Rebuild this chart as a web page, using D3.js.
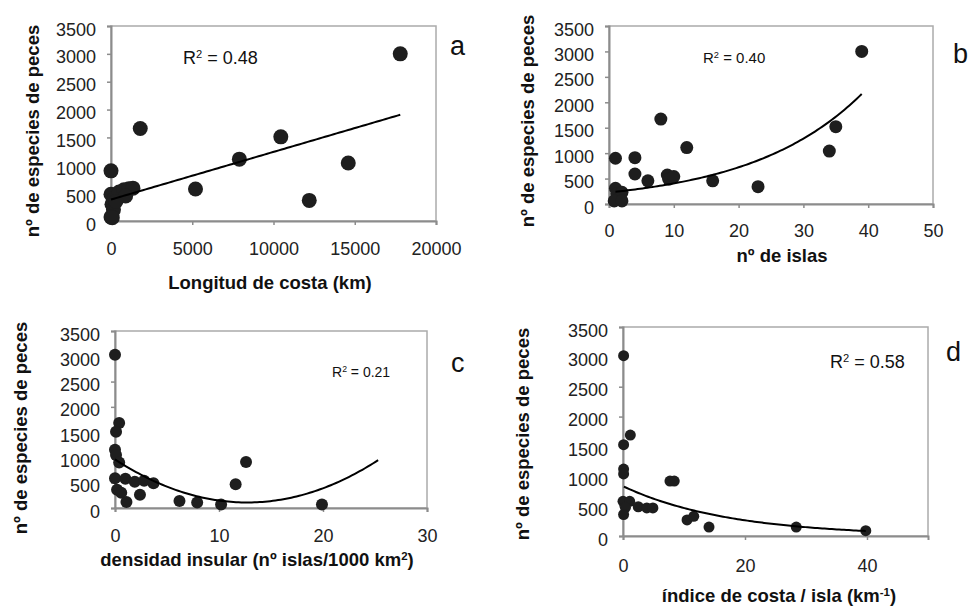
<!DOCTYPE html>
<html>
<head>
<meta charset="utf-8">
<script src="https://cdn.jsdelivr.net/npm/d3@7"></script>
<style>
  body { margin: 0; background: #fff; }
  text { font-family: "Liberation Sans", Arial, sans-serif; }
</style>
</head>
<body>
<script>
// 4 paneles: nº de especies de peces frente a variables insulares

// datos
let yTicks = [0, 500, 1000, 1500, 2000, 2500, 3000, 3500]

// a - longitud de costa (km)
let costaX = [17800, 1800, 10450, 7900, 14600, 5200, 12200, 0, 0, 60, 150, 0, 80, 250, 500, 800, 1100, 1350, 900, 300]
let costaY = [3000, 1660, 1510, 1110, 1040, 575, 370, 900, 480, 300, 200, 70, 60, 420, 520, 560, 580, 590, 450, 350]
let costaTicks = [0, 5000, 10000, 15000, 20000]
let costaTrend = { intercept: 385, slope: 0.0855, from: 0, to: 17800 }

// b - nº de islas
let islasX = [39, 35, 34, 8, 12, 1, 4, 4, 6, 9, 9.2, 10, 16, 23, 1, 1.2, 1.5, 2, 0.8, 2]
let islasY = [3000, 1520, 1040, 1670, 1110, 900, 910, 590, 455, 570, 490, 540, 455, 340, 310, 200, 110, 230, 60, 60]
let islasTicks = [0, 10, 20, 30, 40, 50]
let islasTrend = { a: 227, b: 0.0578, from: 1, to: 39 }

// c - densidad insular
let densX = [0, 0.4, 0.1, 0, 0.1, 0.4, 0, 1, 1.9, 2.8, 3.7, 0.2, 0.6, 1.1, 2.4, 6.2, 7.9, 10.2, 11.6, 12.6, 19.9]
let densY = [3030, 1680, 1510, 1150, 1050, 900, 590, 580, 520, 540, 490, 360, 300, 120, 260, 140, 110, 70, 470, 910, 70]
let densTicks = [0, 10, 20, 30]
let densTrend = { c2: 5.27, c1: -133.9, c0: 960, from: 0, to: 25.3 }

// d - índice de costa / isla
let indiceX = [0.1, 1.2, 0.1, 0.1, 0.1, 7.7, 8.4, 0, 1.1, 2.5, 3.9, 4.9, 0.4, 0.1, 10.5, 11.6, 14.1, 28.4, 39.8]
let indiceY = [3020, 1690, 1530, 1120, 1040, 920, 920, 580, 580, 490, 470, 470, 480, 360, 270, 330, 150, 150, 90]
let indiceTicks = [0, 20, 40]
let indiceTrend = { a: 834, b: -0.0577, from: 0.15, to: 39.8 }

let svg = d3.select('body').append('svg')
  .attr('width', 970)
  .attr('height', 606)

// texto con superíndices: partes = [[texto, esSup], ...]
function richText (sel, parts) {
  parts.forEach(function (p) {
    if (p[1]) {
      sel.append('tspan').attr('dy', '-0.55em').attr('font-size', '0.62em').text(p[0])
    } else {
      let t = sel.append('tspan').text(p[0])
      if (sel.selectAll('tspan').size() > 1) t.attr('dy', '0.34em')
    }
  })
}

function panel (o) {
  let x = d3.scaleLinear().domain(o.xDomain).range([o.left, o.right])
  let y = d3.scaleLinear().domain([0, 3500]).range([o.bottom, o.top])
  let g = svg.append('g')

  // marco del área de trazado
  g.append('rect')
    .attr('x', o.left).attr('y', o.top)
    .attr('width', o.right - o.left).attr('height', o.bottom - o.top)
    .attr('fill', 'none').attr('stroke', '#ababab').attr('stroke-width', 1.5)

  let yAxis = g.append('g')
    .attr('transform', 'translate(' + o.left + ',0)')
    .call(d3.axisLeft(y).tickValues(yTicks).tickFormat(d3.format('d')).tickSize(4).tickPadding(11))
  let xAxis = g.append('g')
    .attr('transform', 'translate(0,' + o.bottom + ')')
    .call(d3.axisBottom(x).tickValues(o.xTicks).tickFormat(d3.format('d')).tickSize(4).tickPadding(o.xPad))
  ;[yAxis, xAxis].forEach(function (ax) {
    ax.select('.domain').attr('stroke', '#8c8c8c').attr('stroke-width', 2)
    ax.selectAll('line').attr('stroke', '#8c8c8c').attr('stroke-width', 1.5)
    ax.selectAll('text').attr('font-size', '18px').attr('fill', '#222')
      .style('font-family', '"Liberation Sans", Arial, sans-serif')
  })
  yAxis.selectAll('text').attr('dy', '0.5em')

  // puntos
  g.selectAll('circle')
    .data(o.xs.map(function (v, i) { return [v, o.ys[i]] }))
    .enter()
    .append('circle')
    .attr('cx', function (d) { return x(d[0]) })
    .attr('cy', function (d) { return y(d[1]) })
    .attr('r', o.r)
    .attr('fill', '#1e1e1e')

  // línea de tendencia
  let pts = d3.range(0, 101).map(function (i) {
    let v = o.trend.from + (o.trend.to - o.trend.from) * i / 100
    return [v, o.fn(v)]
  })
  g.append('path')
    .attr('d', d3.line().x(function (d) { return x(d[0]) }).y(function (d) { return y(d[1]) })(pts))
    .attr('fill', 'none').attr('stroke', '#000').attr('stroke-width', 2)

  // títulos de ejes
  g.append('text')
    .attr('transform', 'translate(' + o.yTitle[0] + ',' + o.yTitle[1] + ') rotate(-90)')
    .attr('text-anchor', 'middle').attr('dy', '0.35em')
    .attr('font-size', '18.5px').attr('font-weight', 'bold').attr('fill', '#111')
    .text('nº de especies de peces')
  let xt = g.append('text')
    .attr('x', o.xTitle[0]).attr('y', o.xTitle[1])
    .attr('text-anchor', 'middle').attr('dy', '0.35em')
    .attr('font-size', '18.5px').attr('font-weight', 'bold').attr('fill', '#111')
  richText(xt, o.xTitleParts)

  // R²
  let r2 = g.append('text')
    .attr('x', o.r2[0]).attr('y', o.r2[1])
    .attr('dy', '0.35em')
    .attr('font-size', o.r2Size).attr('fill', '#111')
  richText(r2, [['R', false], ['2', true], [' = ' + o.r2Text, false]])

  // letra del panel
  g.append('text')
    .attr('x', o.letter[0]).attr('y', o.letter[1])
    .attr('dy', '0.35em')
    .attr('font-size', '27px').attr('fill', '#111')
    .text(o.letterText)
}

panel({
  left: 111, right: 436, top: 26, bottom: 221,
  xDomain: [0, 20000], xTicks: costaTicks, xPad: 17,
  xs: costaX, ys: costaY, r: 7.5,
  trend: costaTrend,
  fn: function (v) { return costaTrend.intercept + costaTrend.slope * v },
  yTitle: [33, 131], xTitle: [270, 283],
  xTitleParts: [['Longitud de costa (km)', false]],
  r2: [183, 58], r2Size: '18px', r2Text: '0.48',
  letter: [450, 46], letterText: 'a'
})

panel({
  left: 609, right: 933, top: 26, bottom: 204,
  xDomain: [0, 50], xTicks: islasTicks, xPad: 16,
  xs: islasX, ys: islasY, r: 6.5,
  trend: islasTrend,
  fn: function (v) { return islasTrend.a * Math.exp(islasTrend.b * v) },
  yTitle: [528, 121], xTitle: [782, 256],
  xTitleParts: [['nº de islas', false]],
  r2: [703, 58], r2Size: '15px', r2Text: '0.40',
  letter: [953, 54], letterText: 'b'
})

panel({
  left: 115, right: 427, top: 331, bottom: 508,
  xDomain: [0, 30], xTicks: densTicks, xPad: 17,
  xs: densX, ys: densY, r: 6,
  trend: densTrend,
  fn: function (v) { return densTrend.c2 * v * v + densTrend.c1 * v + densTrend.c0 },
  yTitle: [21, 428], xTitle: [257, 560],
  xTitleParts: [['densidad insular (nº islas/1000 km', false], ['2', true], [')', false]],
  r2: [332, 372], r2Size: '14px', r2Text: '0.21',
  letter: [451, 363], letterText: 'c'
})

panel({
  left: 623, right: 928, top: 327, bottom: 536,
  xDomain: [0, 50], xTicks: indiceTicks, xPad: 19,
  xs: indiceX, ys: indiceY, r: 5.5,
  trend: indiceTrend,
  fn: function (v) { return indiceTrend.a * Math.exp(indiceTrend.b * v) },
  yTitle: [523, 434], xTitle: [779, 596],
  xTitleParts: [['índice de costa / isla (km', false], ['-1', true], [')', false]],
  r2: [830, 362], r2Size: '18px', r2Text: '0.58',
  letter: [946, 352], letterText: 'd'
})
</script>
</body>
</html>
